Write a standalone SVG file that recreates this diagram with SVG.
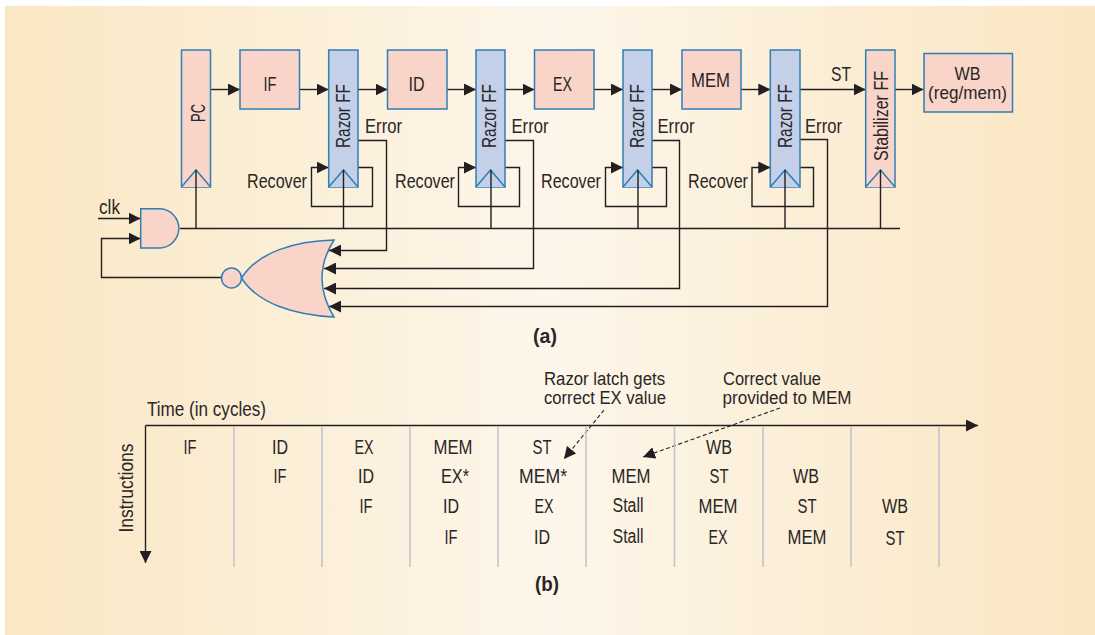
<svg xmlns="http://www.w3.org/2000/svg" width="1095" height="635" viewBox="0 0 1095 635">
<style>
text{font-family:"Liberation Sans",Arial,sans-serif;font-size:19.500px;fill:#2a2627;text-anchor:middle}
text.s{font-size:18px}
.b{font-weight:bold}
.pink{fill:#f9d5c9;stroke:#2f7fb5;stroke-width:1.5}
.blue{fill:#c3d0e8;stroke:#2f7fb5;stroke-width:1.5}
.w{fill:none;stroke:#231f20;stroke-width:1.4}
.g{stroke:#c1c5cc;stroke-width:1.6;fill:none}
.d{fill:none;stroke:#231f20;stroke-width:1.1;stroke-dasharray:4 2.5}
</style>
<defs>
<linearGradient id="bg" x1="0" x2="1" y1="0" y2="0"><stop offset="0" stop-color="#fae7c3"/><stop offset="0.5" stop-color="#fdf6ea"/><stop offset="1" stop-color="#fae6c2"/></linearGradient>
<marker id="a" markerUnits="userSpaceOnUse" markerWidth="12" markerHeight="12" viewBox="0 0 12 12" refX="12" refY="6" orient="auto"><path d="M0 0L12 6L0 12Z" fill="#231f20"/></marker>
</defs>
<rect x="5" y="6" width="1090" height="629" fill="url(#bg)"/>
<g id="connectors">
<path class="w" marker-end="url(#a)" d="M210.500 89.500H240"/>
<path class="w" marker-end="url(#a)" d="M299.500 89.500H328.700"/>
<path class="w" marker-end="url(#a)" d="M358 89.500H387.500"/>
<path class="w" marker-end="url(#a)" d="M447 89.500H476"/>
<path class="w" marker-end="url(#a)" d="M505 89.500H534.500"/>
<path class="w" marker-end="url(#a)" d="M594 89.500H623"/>
<path class="w" marker-end="url(#a)" d="M652 89.500H682"/>
<path class="w" marker-end="url(#a)" d="M741 89.500H770.300"/>
<path class="w" marker-end="url(#a)" d="M800 89.500H865.700"/>
<path class="w" marker-end="url(#a)" d="M895 89.500H923.500"/>
<path class="w" d="M180 228.500H900"/>
<path class="w" marker-end="url(#a)" d="M358 167.500H372.500V206.500H311.500V167.500H328.700"/>
<path class="w" marker-end="url(#a)" d="M505 167.500H519.500V206.500H458.500V167.500H476"/>
<path class="w" marker-end="url(#a)" d="M652 167.500H666.500V206.500H605.500V167.500H623"/>
<path class="w" marker-end="url(#a)" d="M800 167.500H813.500V206.500H752V167.500H770.300"/>
<path class="w" marker-end="url(#a)" d="M358 140.500H386.500V250.500H329"/>
<path class="w" marker-end="url(#a)" d="M505 140.500H533.500V268.500H324"/>
<path class="w" marker-end="url(#a)" d="M652 140.500H679.500V288.500H324"/>
<path class="w" marker-end="url(#a)" d="M800 139.500H827.500V306.500H329"/>
<path class="w" marker-end="url(#a)" d="M98 218.500H140.500"/>
<path class="w" marker-end="url(#a)" d="M222 277.500H101.500V238.500H140.500"/>
<path class="w" marker-end="url(#a)" d="M145.500 425.500H978"/>
<path class="w" marker-end="url(#a)" d="M145.500 425.500V563"/>
<path class="d" marker-end="url(#a)" d="M604 410L564 459"/>
<path class="d" marker-end="url(#a)" d="M780 408L643 457"/>
</g>
<g id="grid">
<path class="g" d="M234 426V567M322 426V567M410 426V567M498 426V567M586 426V567M674.500 426V567M763 426V567M851 426V567M939 426V567"/>
</g>
<g id="PC"><rect class="pink" x="181.500" y="50" width="29" height="137"/><path class="pink" d="M181.500 187L196 170L210.500 187"/><text transform="translate(204.500 113) rotate(-90)" textLength="18" lengthAdjust="spacingAndGlyphs">PC</text></g>
<g id="IF"><rect class="pink" x="240" y="50" width="59.500" height="59"/><text x="270" y="91" textLength="13" lengthAdjust="spacingAndGlyphs">IF</text></g>
<g id="RazorFF1"><rect class="blue" x="328.700" y="50" width="29.300" height="137"/><path class="blue" d="M328.700 187L343.500 170L358 187"/><text transform="translate(349.500 116) rotate(-90)" textLength="64" lengthAdjust="spacingAndGlyphs">Razor FF</text></g>
<g id="ID"><rect class="pink" x="387.500" y="50" width="59.500" height="59"/><text x="416.500" y="91" textLength="16" lengthAdjust="spacingAndGlyphs">ID</text></g>
<g id="RazorFF2"><rect class="blue" x="476" y="50" width="29" height="137"/><path class="blue" d="M476 187L490.500 170L505 187"/><text transform="translate(496 116) rotate(-90)" textLength="64" lengthAdjust="spacingAndGlyphs">Razor FF</text></g>
<g id="EX"><rect class="pink" x="534.500" y="50" width="59.500" height="59"/><text x="562.500" y="91" textLength="19" lengthAdjust="spacingAndGlyphs">EX</text></g>
<g id="RazorFF3"><rect class="blue" x="623" y="50" width="29" height="137"/><path class="blue" d="M623 187L637.500 170L652 187"/><text transform="translate(644 116) rotate(-90)" textLength="64" lengthAdjust="spacingAndGlyphs">Razor FF</text></g>
<g id="MEM"><rect class="pink" x="682" y="50" width="59" height="59"/><text x="710.500" y="87" textLength="39" lengthAdjust="spacingAndGlyphs">MEM</text></g>
<g id="RazorFF4"><rect class="blue" x="770.300" y="50" width="29.700" height="137"/><path class="blue" d="M770.300 187L785 170L800 187"/><text transform="translate(791.500 116) rotate(-90)" textLength="64" lengthAdjust="spacingAndGlyphs">Razor FF</text></g>
<g id="Stabilizer"><rect class="pink" x="865.700" y="50" width="29.300" height="137"/><path class="pink" d="M865.700 187L880.500 170L895 187"/><text transform="translate(888 116) rotate(-90)" textLength="90" lengthAdjust="spacingAndGlyphs">Stabilizer FF</text></g>
<g id="WB"><rect class="pink" x="924" y="53.500" width="88.500" height="58.500"/><text class="s" x="967.500" y="80" textLength="26" lengthAdjust="spacingAndGlyphs">WB</text><text class="s" x="967.500" y="99" textLength="79" lengthAdjust="spacingAndGlyphs">(reg/mem)</text></g>
<g id="AND"><path class="pink" d="M140.700 208.700H160.500A19.700 19.700 0 0 1 160.500 248H140.700Z"/></g>
<g id="NOR"><path class="pink" d="M334 240C295 241 258 252 241.500 278C258 304 295 315 334 317Q310 278 334 240Z"/><circle class="pink" cx="231.500" cy="278" r="10"/></g>
<g id="connectors-clock"><path class="w" d="M196 228.500V170M343.500 228.500V170M491 228.500V170M638 228.500V170M785 228.500V170M880.500 228.500V170"/></g>
<g id="labels">
<text x="383.500" y="133" textLength="37" lengthAdjust="spacingAndGlyphs">Error</text>
<text x="530" y="133" textLength="37" lengthAdjust="spacingAndGlyphs">Error</text>
<text x="676" y="133" textLength="37" lengthAdjust="spacingAndGlyphs">Error</text>
<text x="823.500" y="133" textLength="37" lengthAdjust="spacingAndGlyphs">Error</text>
<text x="277" y="188" textLength="60" lengthAdjust="spacingAndGlyphs">Recover</text>
<text x="425" y="188" textLength="60" lengthAdjust="spacingAndGlyphs">Recover</text>
<text x="571" y="188" textLength="60" lengthAdjust="spacingAndGlyphs">Recover</text>
<text x="718" y="188" textLength="60" lengthAdjust="spacingAndGlyphs">Recover</text>
<text x="109.500" y="214" textLength="21" lengthAdjust="spacingAndGlyphs">clk</text>
<text x="841" y="81" textLength="20" lengthAdjust="spacingAndGlyphs">ST</text>
<text class="b" x="545" y="343" textLength="24" lengthAdjust="spacingAndGlyphs">(a)</text>
<text class="b" x="547" y="591" textLength="24" lengthAdjust="spacingAndGlyphs">(b)</text>
<text x="206.500" y="416" textLength="119" lengthAdjust="spacingAndGlyphs">Time (in cycles)</text>
<text transform="translate(133 488) rotate(-90)" textLength="89" lengthAdjust="spacingAndGlyphs">Instructions</text>
<text class="s" x="604.500" y="385" textLength="121" lengthAdjust="spacingAndGlyphs">Razor latch gets</text>
<text class="s" x="605" y="404" textLength="122" lengthAdjust="spacingAndGlyphs">correct EX value</text>
<text class="s" x="772" y="385" textLength="98" lengthAdjust="spacingAndGlyphs">Correct value</text>
<text class="s" x="787" y="404" textLength="129" lengthAdjust="spacingAndGlyphs">provided to MEM</text>
</g>
<g id="table">
<text x="190" y="454" textLength="13" lengthAdjust="spacingAndGlyphs">IF</text>
<text x="280" y="454" textLength="16" lengthAdjust="spacingAndGlyphs">ID</text>
<text x="280" y="483" textLength="13" lengthAdjust="spacingAndGlyphs">IF</text>
<text x="364" y="454" textLength="19" lengthAdjust="spacingAndGlyphs">EX</text>
<text x="366" y="483" textLength="16" lengthAdjust="spacingAndGlyphs">ID</text>
<text x="366" y="513" textLength="13" lengthAdjust="spacingAndGlyphs">IF</text>
<text x="453" y="454" textLength="39" lengthAdjust="spacingAndGlyphs">MEM</text>
<text x="455" y="483" textLength="28" lengthAdjust="spacingAndGlyphs">EX*</text>
<text x="451" y="513" textLength="16" lengthAdjust="spacingAndGlyphs">ID</text>
<text x="451" y="544" textLength="13" lengthAdjust="spacingAndGlyphs">IF</text>
<text x="542" y="454" textLength="19" lengthAdjust="spacingAndGlyphs">ST</text>
<text x="543" y="483" textLength="48" lengthAdjust="spacingAndGlyphs">MEM*</text>
<text x="544" y="513" textLength="19" lengthAdjust="spacingAndGlyphs">EX</text>
<text x="542" y="544" textLength="16" lengthAdjust="spacingAndGlyphs">ID</text>
<text x="631" y="483" textLength="39" lengthAdjust="spacingAndGlyphs">MEM</text>
<text x="628" y="512" textLength="31" lengthAdjust="spacingAndGlyphs">Stall</text>
<text x="628" y="543" textLength="31" lengthAdjust="spacingAndGlyphs">Stall</text>
<text x="719" y="454" textLength="26" lengthAdjust="spacingAndGlyphs">WB</text>
<text x="719" y="483" textLength="19" lengthAdjust="spacingAndGlyphs">ST</text>
<text x="718" y="513" textLength="39" lengthAdjust="spacingAndGlyphs">MEM</text>
<text x="718" y="544" textLength="19" lengthAdjust="spacingAndGlyphs">EX</text>
<text x="806" y="483" textLength="26" lengthAdjust="spacingAndGlyphs">WB</text>
<text x="807" y="513" textLength="19" lengthAdjust="spacingAndGlyphs">ST</text>
<text x="807" y="544" textLength="39" lengthAdjust="spacingAndGlyphs">MEM</text>
<text x="895" y="513" textLength="26" lengthAdjust="spacingAndGlyphs">WB</text>
<text x="895" y="545" textLength="19" lengthAdjust="spacingAndGlyphs">ST</text>
</g>
</svg>
